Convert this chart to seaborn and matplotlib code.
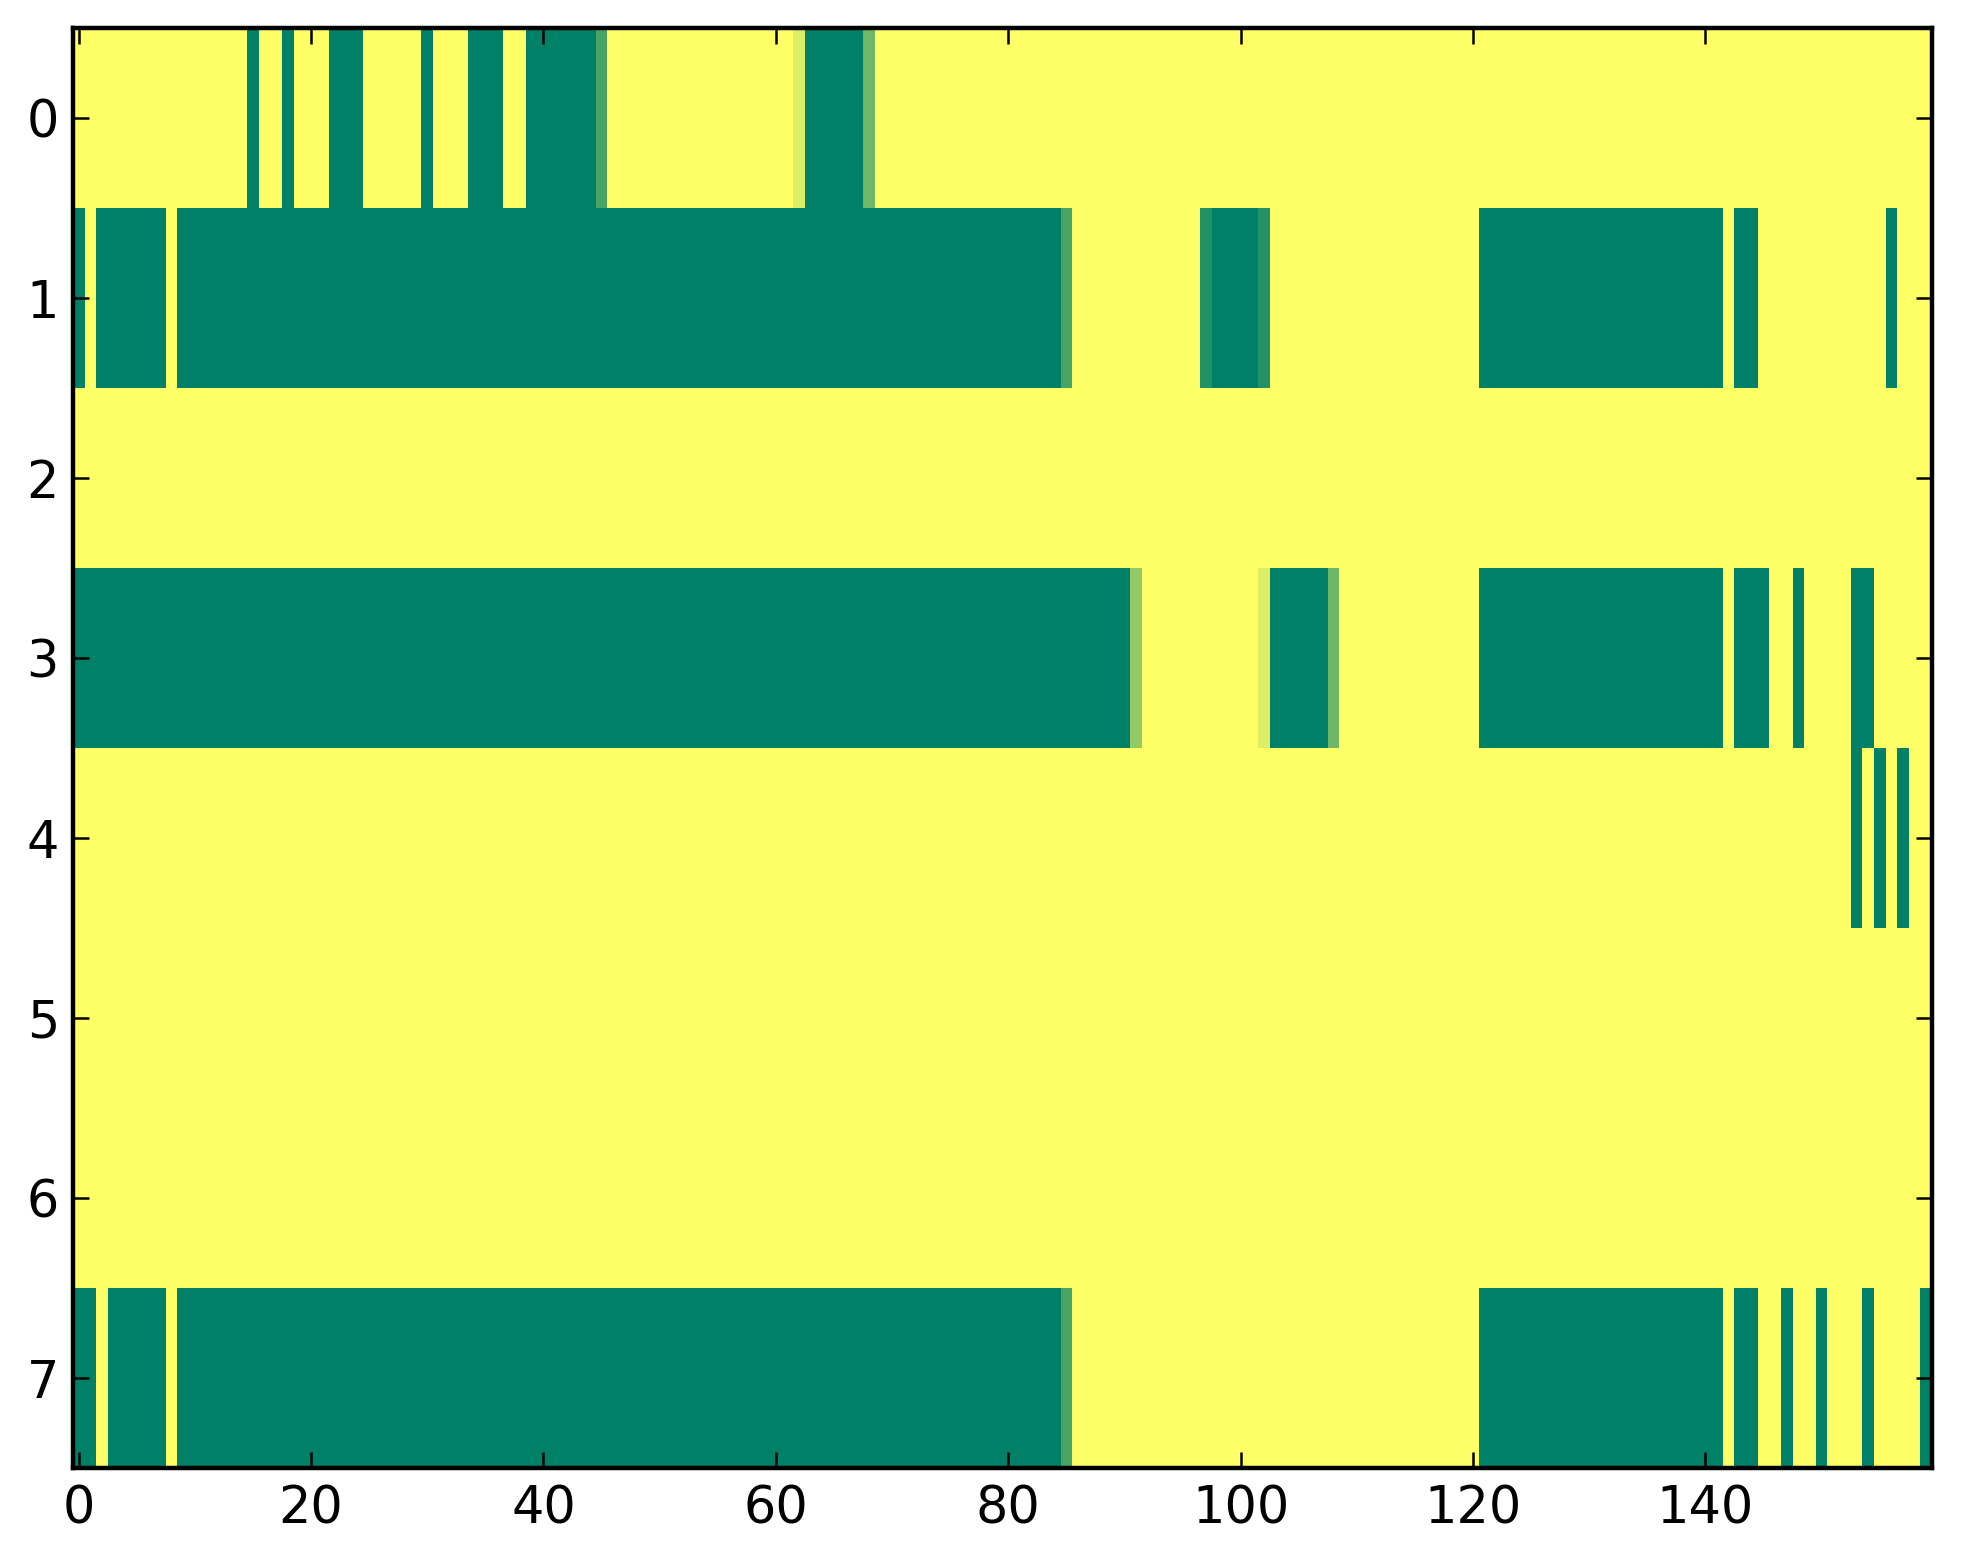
import numpy as np
import pandas as pd
import matplotlib
matplotlib.use("Agg")
import matplotlib.pyplot as plt
import seaborn as sns

# Each row given as (value, run length) pairs read left to right (160 columns)
row0_runs = [(1.0, 15), (0.0, 1), (1.0, 2), (0.0, 1), (1.0, 3), (0.0, 3), (1.0, 5), (0.0, 1),
             (1.0, 3), (0.0, 3), (1.0, 2), (0.0, 6), (0.29, 1), (1.0, 16), (0.86, 1), (0.0, 5),
             (0.44, 1), (1.0, 91)]
row1_runs = [(0.0, 1), (1.0, 1), (0.0, 6), (1.0, 1), (0.0, 76), (0.29, 1), (1.0, 11), (0.14, 1),
             (0.0, 4), (0.14, 1), (1.0, 18), (0.0, 21), (1.0, 1), (0.0, 2), (1.0, 11), (0.0, 1),
             (1.0, 3)]
row2_runs = [(1.0, 160)]
row3_runs = [(0.0, 91), (0.58, 1), (1.0, 10), (0.87, 1), (0.0, 5), (0.43, 1), (1.0, 12), (0.0, 21),
             (1.0, 1), (0.0, 3), (1.0, 2), (0.0, 1), (1.0, 4), (0.0, 2), (1.0, 5)]
row4_runs = [(1.0, 153), (0.0, 1), (1.0, 1), (0.0, 1), (1.0, 1), (0.0, 1), (1.0, 2)]
row5_runs = [(1.0, 160)]
row6_runs = [(1.0, 160)]
row7_runs = [(0.0, 2), (1.0, 1), (0.0, 5), (1.0, 1), (0.0, 76), (0.29, 1), (1.0, 35), (0.0, 21),
             (1.0, 1), (0.0, 2), (1.0, 2), (0.0, 1), (1.0, 2), (0.0, 1), (1.0, 3), (0.0, 1),
             (1.0, 4), (0.0, 1)]

all_rows = [row0_runs, row1_runs, row2_runs, row3_runs, row4_runs, row5_runs, row6_runs, row7_runs]
x_tick_values = [0, 20, 40, 60, 80, 100, 120, 140]
y_tick_values = [0, 1, 2, 3, 4, 5, 6, 7]


def expand(runs):
    out = []
    for v, n in runs:
        out.extend([v] * n)
    return out


matrix = np.array([expand(r) for r in all_rows])
df = pd.DataFrame(matrix)

sns.set_style("white")
plt.rcParams['font.family'] = ['DejaVu Sans']

W, H, DPI = 1963, 1564, 200
fig = plt.figure(figsize=(W / DPI, H / DPI), dpi=DPI)
ax = fig.add_axes([72.9 / W, 1 - 1468 / H, (1932 - 72.9) / W, (1468 - 28) / H])

sns.heatmap(df, ax=ax, cmap="summer", vmin=0, vmax=1, cbar=False,
            xticklabels=False, yticklabels=False, linewidths=0)

ax.set_xticks(np.array(x_tick_values) + 0.5)
ax.set_xticklabels([str(v) for v in x_tick_values])
ax.set_yticks(np.array(y_tick_values) + 0.5)
ax.set_yticklabels([str(v) for v in y_tick_values], rotation=0)

for side in ["left", "right", "top", "bottom"]:
    ax.spines[side].set_visible(True)
    ax.spines[side].set_color("black")
    ax.spines[side].set_linewidth(1.6)
    ax.spines[side].set_zorder(5)

ax.tick_params(axis="both", which="major", direction="in", length=5.8, width=0.9,
               color="black", labelsize=18.3, labelcolor="black",
               top=True, right=True, bottom=True, left=True,
               labeltop=False, labelright=False)
ax.tick_params(axis="x", pad=6)
ax.tick_params(axis="y", pad=5)
ax.set_xlabel("")
ax.set_ylabel("")
ax.set_axisbelow(False)

fig.savefig("out.png", dpi=DPI)
